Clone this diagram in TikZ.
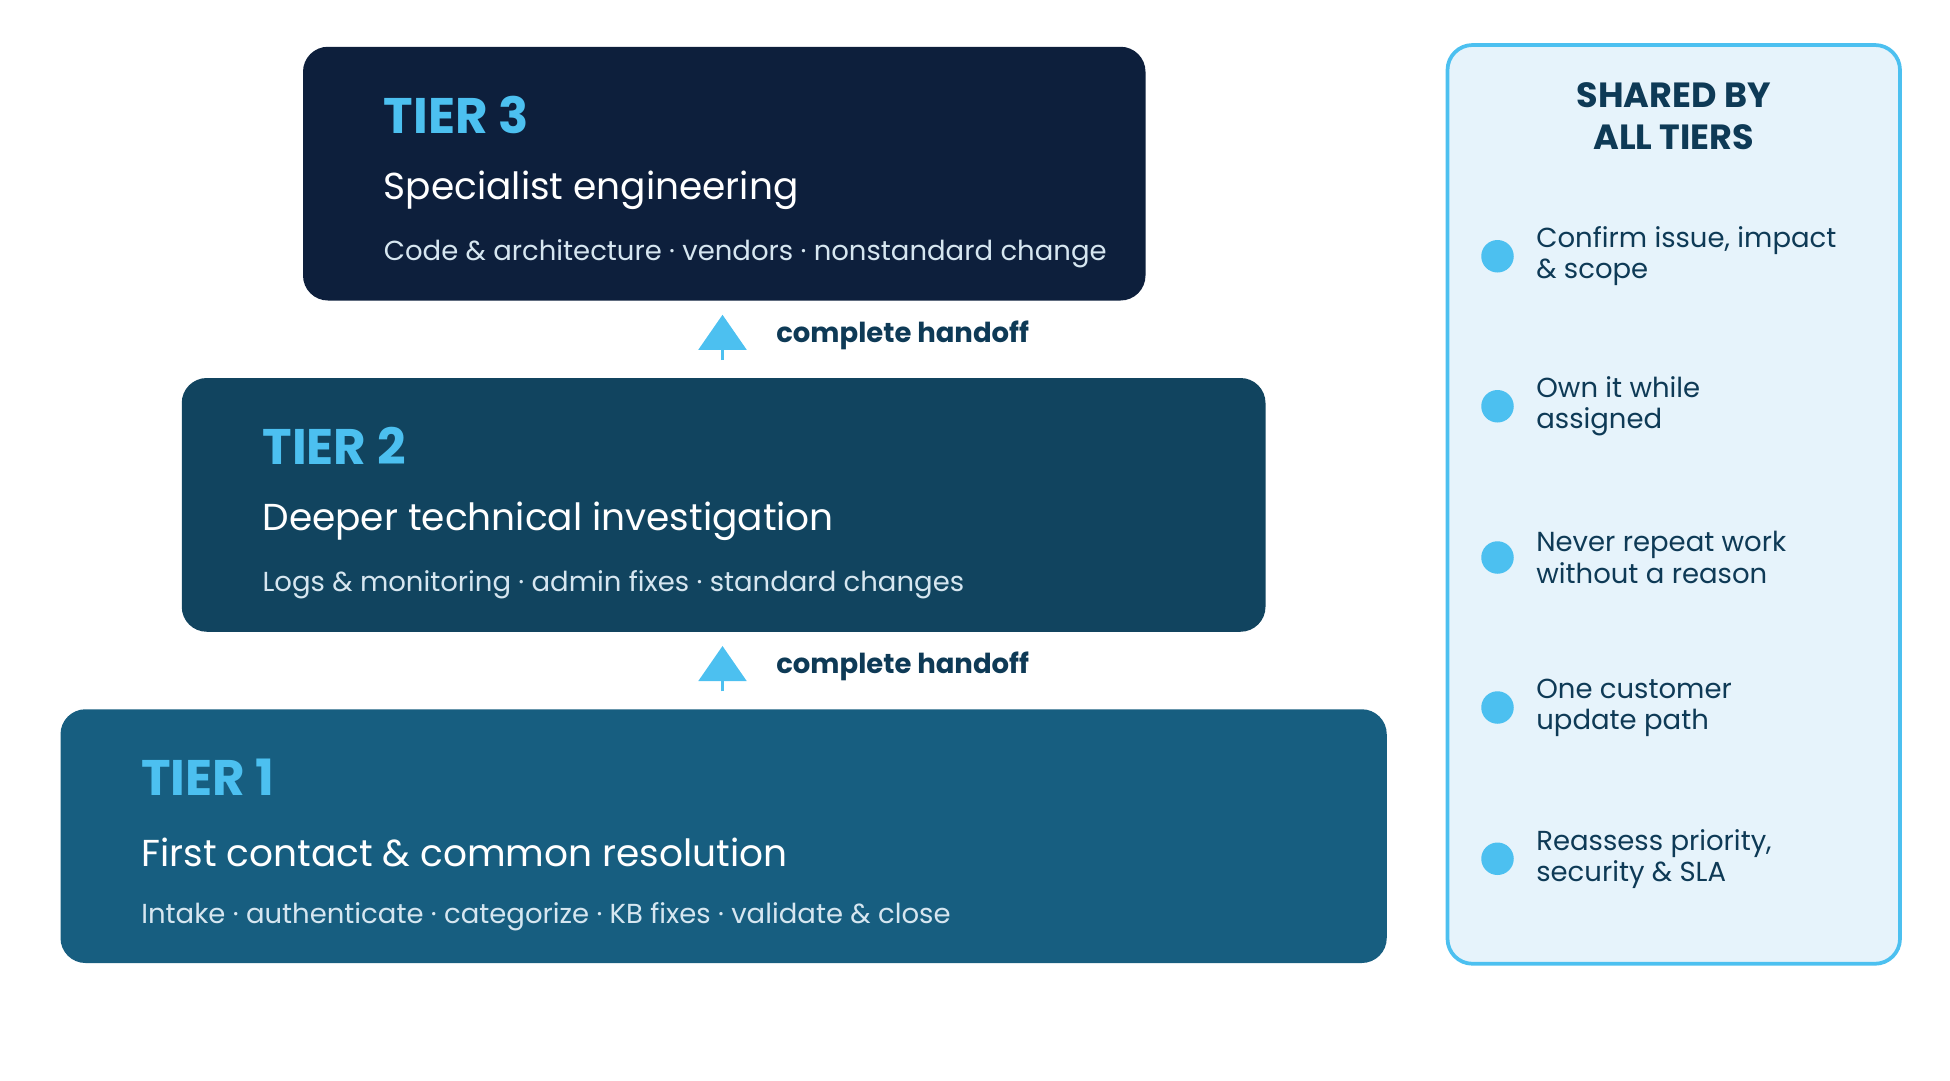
\documentclass[tikz,border=0pt]{standalone}
\usepackage{fontspec}
\setmainfont{Poppins}
\usetikzlibrary{positioning,arrows.meta}
\definecolor{navy}{HTML}{0D1F3C}
\definecolor{teal2}{HTML}{11445F}
\definecolor{teal1}{HTML}{175E80}
\definecolor{sky}{HTML}{4CC0F0}
\definecolor{ink}{HTML}{0E3A56}
\definecolor{panel}{HTML}{E6F3FB}
\definecolor{soft}{HTML}{D6E6F0}
\tikzset{
  tier/.style={rounded corners=10pt, minimum height=101.5pt, inner sep=0pt},
  ttl/.style={anchor=west, text=sky, font=\bfseries\fontsize{20}{22}\selectfont},
  sub/.style={anchor=west, text=white, font=\fontsize{15}{17}\selectfont},
  note/.style={anchor=west, text=soft, font=\fontsize{11}{13}\selectfont},
  handoff/.style={draw=sky, line width=1.5pt, -{Triangle[width=19pt,length=14pt]}},
  hlabel/.style={anchor=west, text=ink, font=\fontsize{11}{13}\selectfont\bfseries},
  dot/.style={circle, fill=sky, minimum size=13pt, inner sep=0pt},
  item/.style={anchor=west, text=ink, align=left, font=\fontsize{11}{12.5}\selectfont}
}
\begin{document}
\begin{tikzpicture}[x=0.5pt,y=-0.5pt]
  \useasboundingbox (0,0) rectangle (1560,864);

  % tiers
  \node[tier, fill=navy, minimum width=337pt, anchor=north west] (t3) at (242,37) {};
  \node[tier, fill=teal2, minimum width=433.5pt, anchor=north west] (t2) at (145,302) {};
  \node[tier, fill=teal1, minimum width=530.5pt, anchor=north west] (t1) at (48,567) {};

  \node[ttl] (t3a) at (300,92) {TIER 3};
  \node[sub] (t3b) at (300,152) {Specialist engineering};
  \node[note] (t3c) at (300,203) {Code \& architecture · vendors · nonstandard change};

  \node[ttl] (t2a) at (203,357) {TIER 2};
  \node[sub] (t2b) at (203,417) {Deeper technical investigation};
  \node[note] (t2c) at (203,468) {Logs \& monitoring · admin fixes · standard changes};

  \node[ttl] (t1a) at (106,622) {TIER 1};
  \node[sub] (t1b) at (106,682) {First contact \& common resolution};
  \node[note] (t1c) at (106,733) {Intake · authenticate · categorize · KB fixes · validate \& close};

  % handoffs
  \draw[handoff, shorten <=7pt, shorten >=5.5pt] (t1.north -| 578,0) -- (t2.south -| 578,0);
  \draw[handoff, shorten <=7pt, shorten >=5.5pt] (t2.north -| 578,0) -- (t3.south -| 578,0);
  \node[hlabel] (h1) at (614,533) {complete handoff};
  \node[hlabel] (h2) at (614,268) {complete handoff};

  % shared panel
  \draw[draw=sky, fill=panel, line width=1.5pt, rounded corners=10pt] (1158,36) rectangle (1520,771);
  \node[text=ink, align=center, font=\bfseries\fontsize{14}{17}\selectfont] (sh) at (1339,93) {SHARED BY\\ALL TIERS};
  \foreach \y/\txt [count=\i] in {205/{Confirm issue, impact\\\& scope},
      325/{Own it while\\assigned},
      446/{Never repeat work\\without a reason},
      566/{One customer\\update path},
      687/{Reassess priority,\\security \& SLA}} {
    \node[dot] (d\i) at (1198,\y) {};
    \node[item] (s\i) at (1222,\y) {\txt};
  }
\end{tikzpicture}
\end{document}
